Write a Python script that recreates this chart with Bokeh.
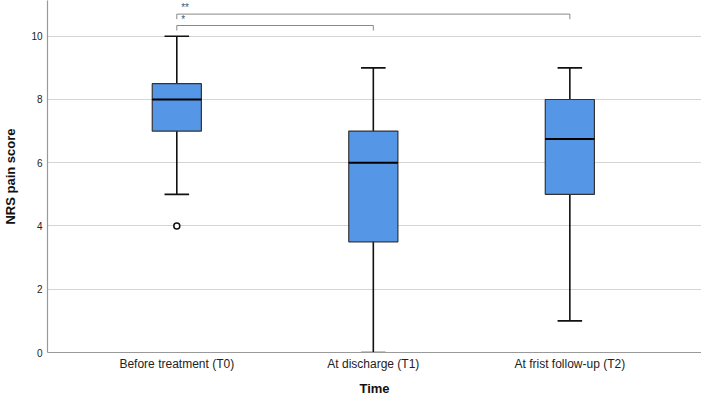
from bokeh.plotting import figure
from bokeh.models import FixedTicker, Range1d
from bokeh.core.properties import value
from bokeh.embed import file_html
from bokeh.resources import INLINE

# ---- data ----
categories = ["Before treatment (T0)", "At discharge (T1)", "At frist follow-up (T2)"]
positions = [1, 2, 3]
q1 = [7.0, 3.5, 5.0]
median = [8.0, 6.0, 6.75]
q3 = [8.5, 7.0, 8.0]
whisker_low = [5.0, 0.0, 1.0]
whisker_high = [10.0, 9.0, 9.0]
outlier_x = [1]
outlier_y = [4.0]
y_ticks = [0, 2, 4, 6, 8, 10]

# significance brackets
sig_from = [1, 1]
sig_to = [2, 3]
sig_level = [10.34, 10.70]
sig_label = ["*", "**"]

FONT = "Liberation Sans"
BOX_FILL = "#5596E6"
BOX_W = 0.25
CAP_W = 0.125

p = figure(width=701, height=398, output_backend="svg", toolbar_location=None,
           x_range=Range1d(0.342, 3.67), y_range=Range1d(0, 11.13))
p.min_border_left = 41
p.min_border_right = 0
p.min_border_top = 0
p.min_border_bottom = 0
p.outline_line_color = None
p.background_fill_color = "white"

# grid
p.xgrid.grid_line_color = None
p.ygrid.grid_line_color = "#d4d4d4"
p.ygrid.grid_line_width = 1.2
p.ygrid.ticker = FixedTicker(ticks=y_ticks[1:])

# axes
p.xaxis.ticker = FixedTicker(ticks=positions)
p.xaxis.major_label_overrides = {pos: lab for pos, lab in zip(positions, categories)}
p.yaxis.ticker = FixedTicker(ticks=y_ticks)
for ax in (p.xaxis[0], p.yaxis[0]):
    ax.axis_line_color = "#999999"
    ax.axis_line_width = 1.2
    ax.major_tick_line_color = None
    ax.minor_tick_line_color = None
    ax.major_tick_out = 0
    ax.major_tick_in = 0
    ax.minor_tick_out = 0
    ax.minor_tick_in = 0
    ax.major_label_text_font = FONT
    ax.major_label_text_color = "#222222"
    ax.axis_label_text_font = FONT
    ax.axis_label_text_font_style = "bold"
    ax.axis_label_text_font_size = "13px"
    ax.axis_label_text_color = "#111111"

p.xaxis.axis_label = "Time"
p.xaxis.major_label_text_font_size = "12px"
p.xaxis.major_label_standoff = 4
p.xaxis.axis_label_standoff = 7

p.yaxis.axis_label = "NRS pain score"
p.yaxis.major_label_text_font_size = "10px"
p.yaxis.major_label_standoff = 5
p.yaxis.axis_label_standoff = 10

# whiskers
p.segment(x0=positions, y0=q3, x1=positions, y1=whisker_high, line_color="#111111", line_width=1.6)
p.segment(x0=positions, y0=whisker_low, x1=positions, y1=q1, line_color="#111111", line_width=1.6)
# caps
p.segment(x0=[x - CAP_W / 2 for x in positions], y0=whisker_high,
          x1=[x + CAP_W / 2 for x in positions], y1=whisker_high, line_color="#111111", line_width=1.6)
p.segment(x0=[x - CAP_W / 2 for x in positions], y0=whisker_low,
          x1=[x + CAP_W / 2 for x in positions], y1=whisker_low, line_color="#111111", line_width=1.6)

# boxes
p.vbar(x=positions, width=BOX_W, bottom=q1, top=q3, fill_color=BOX_FILL,
       line_color="#333333", line_width=1.2)
# medians
p.segment(x0=[x - BOX_W / 2 for x in positions], y0=median,
          x1=[x + BOX_W / 2 for x in positions], y1=median, line_color="#000000", line_width=2.2)

# outliers
p.scatter(x=outlier_x, y=outlier_y, size=6, marker="circle", fill_color="white",
          line_color="#111111", line_width=1.5)

# significance brackets
drop = 0.16
for a, b, lvl, lab in zip(sig_from, sig_to, sig_level, sig_label):
    p.line(x=[a, a, b, b], y=[lvl - drop, lvl, lvl, lvl - drop], line_color="#888888", line_width=1)
    p.text(x=[a + 0.022], y=[lvl + 0.02], text=[lab], text_font=value(FONT),
           text_font_size="10px", text_color="#555555", text_baseline="bottom", text_align="left")

open("out.html", "w").write(file_html(p, INLINE))
